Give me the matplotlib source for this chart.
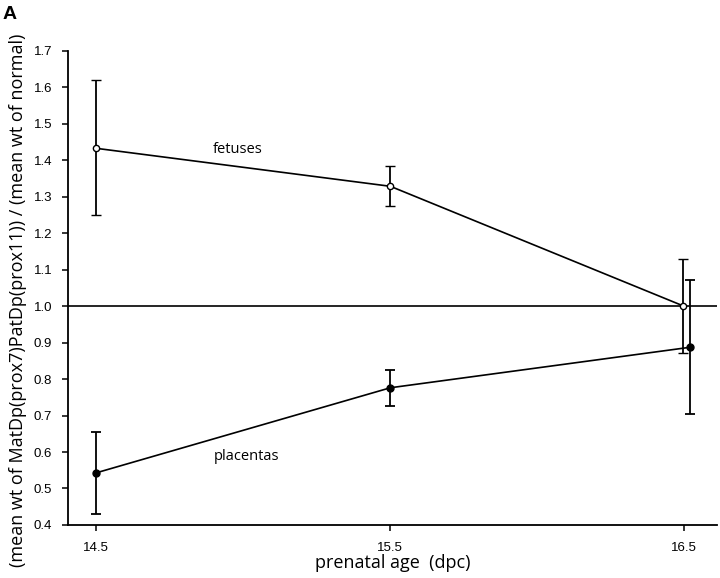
import matplotlib
matplotlib.use('Agg')
import matplotlib.pyplot as plt

# data
ages = [14.5, 15.5, 16.5]
fetus_x = [14.5, 15.5, 16.497]
fetus_mean = [1.432, 1.328, 1.000]
fetus_lo = [1.248, 1.275, 0.872]
fetus_hi = [1.618, 1.383, 1.130]

placenta_x = [14.5, 15.5, 16.52]
placenta_mean = [0.543, 0.776, 0.887]
placenta_lo = [0.430, 0.727, 0.705]
placenta_hi = [0.655, 0.826, 1.072]

y_ticks = [0.4, 0.5, 0.6, 0.7, 0.8, 0.9, 1.0, 1.1, 1.2, 1.3, 1.4, 1.5, 1.6, 1.7]

plt.rcParams['font.family'] = ['Liberation Sans', 'DejaVu Sans']
label_font = ['Open Sans', 'DejaVu Sans']

fig = plt.figure(figsize=(7.2, 5.78), dpi=100)
ax = fig.add_axes([0.09375, 0.0917, 0.9025, 0.8209])

fetus_err = [[m - lo for m, lo in zip(fetus_mean, fetus_lo)],
             [hi - m for m, hi in zip(fetus_mean, fetus_hi)]]
placenta_err = [[m - lo for m, lo in zip(placenta_mean, placenta_lo)],
                [hi - m for m, hi in zip(placenta_mean, placenta_hi)]]

ax.axhline(1.0, color='black', lw=1.2, zorder=1)

ax.errorbar(fetus_x, fetus_mean, yerr=fetus_err, color='black', lw=1.2,
            elinewidth=1.3, capsize=3.5, capthick=1.3, marker='o', ms=4.5,
            mfc='white', mec='black', mew=1.0, zorder=3)
ax.errorbar(placenta_x, placenta_mean, yerr=placenta_err, color='black', lw=1.2,
            elinewidth=1.3, capsize=3.5, capthick=1.3, marker='o', ms=5,
            mfc='black', mec='black', zorder=3)

ax.text(14.98, 1.43, 'fetuses', family=label_font, fontsize=10.5,
        ha='center', va='center')
ax.text(15.01, 0.589, 'placentas', family=label_font, fontsize=10.5,
        ha='center', va='center')

ax.set_xlim(14.402, 16.612)
ax.set_ylim(0.4, 1.7)
ax.set_xticks(ages)
ax.set_xticklabels([f'{a:.1f}' for a in ages])
ax.set_yticks(y_ticks)
ax.set_yticklabels([f'{v:.1f}' for v in y_ticks])

for s in ['top', 'right']:
    ax.spines[s].set_visible(False)
for s in ['left', 'bottom']:
    ax.spines[s].set_linewidth(1.3)

ax.tick_params(axis='y', direction='out', length=4, width=1.1, pad=7, labelsize=9.5)
ax.tick_params(axis='x', direction='out', length=4, width=1.1, pad=8, labelsize=9.5)

ax.set_xlabel('prenatal age  (dpc)', family=label_font, fontsize=13)
ax.xaxis.set_label_coords(0.5, -0.062)
ax.set_ylabel('(mean wt of MatDp(prox7)PatDp(prox11)) / (mean wt of normal)',
              family=label_font, fontsize=13)
ax.yaxis.set_label_coords(-0.062, 0.474)

fig.text(0.004, 0.99, 'A', fontsize=14, fontweight='bold', ha='left', va='top')

fig.savefig('out.png', dpi=100)
